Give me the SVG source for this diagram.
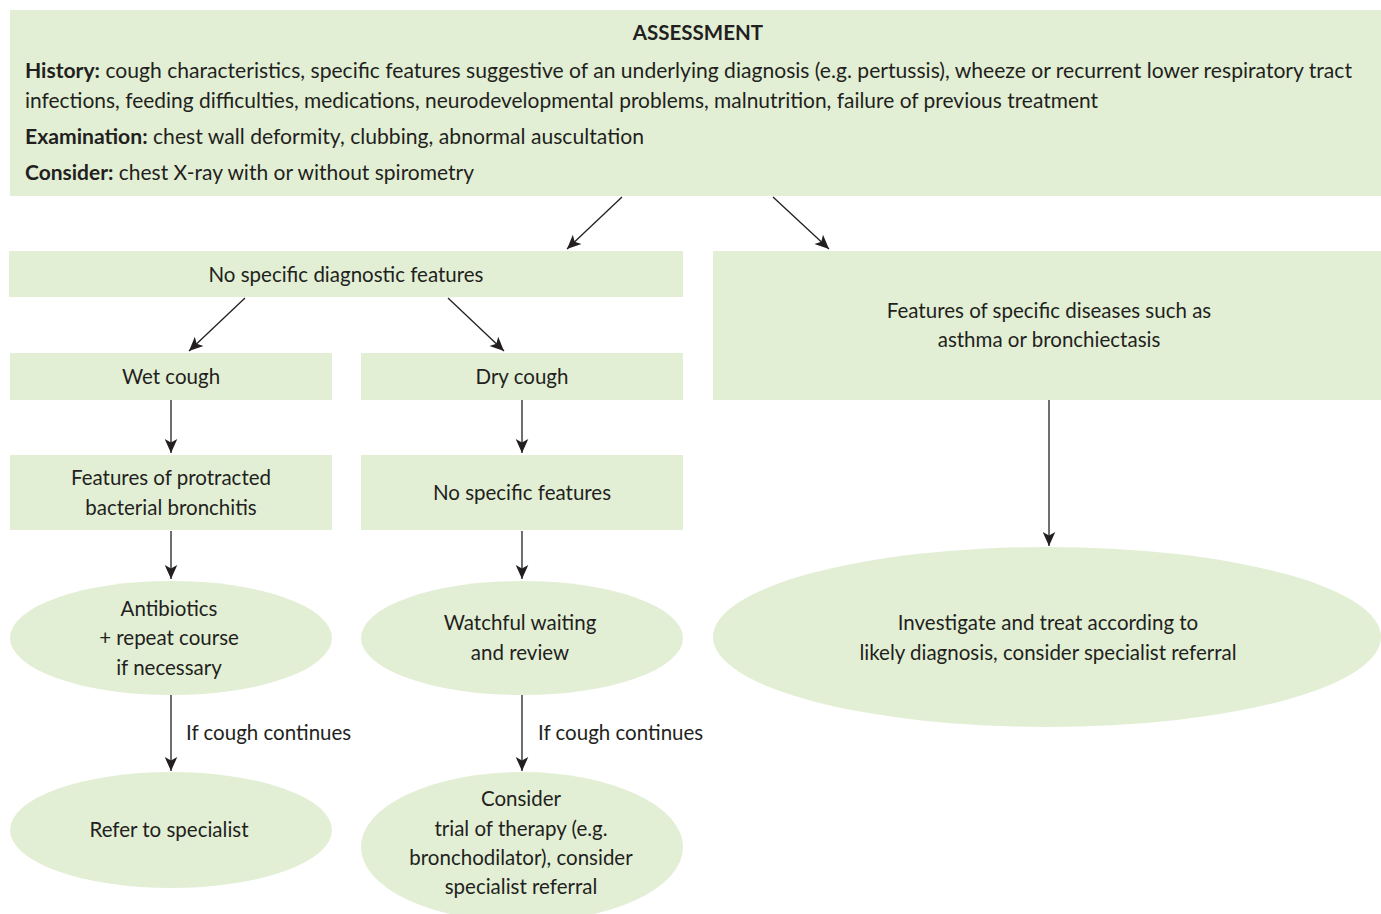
<svg xmlns="http://www.w3.org/2000/svg" width="1381" height="914" viewBox="0 0 1381 914">
<defs>
<style>
.n{fill:#e2efd5;stroke:none}
text{font-family:Lato,"Liberation Sans",sans-serif;font-size:20.5px;fill:#231f20}
.c{text-anchor:middle}
.b{font-weight:bold}
.e{stroke:#231f20;stroke-width:1.3;fill:none;marker-end:url(#ah)}
</style>
<marker id="ah" viewBox="0 0 10 10" refX="10" refY="5" markerWidth="14" markerHeight="14" markerUnits="userSpaceOnUse" orient="auto">
<path d="M0,0.5 L10,5 L0,9.5 L2.5,5 z" fill="#231f20"/>
</marker>
</defs>
<rect width="1381" height="914" fill="#fff"/>
<g id="assessment">
<rect class="n" x="10" y="10" width="1371" height="186"/>
<text class="c b" x="698" y="40">ASSESSMENT</text>
<text x="25" y="78" textLength="1327" lengthAdjust="spacingAndGlyphs"><tspan class="b">History:</tspan> cough characteristics, specific features suggestive of an underlying diagnosis (e.g. pertussis), wheeze or recurrent lower respiratory tract</text>
<text x="25" y="108" textLength="1073" lengthAdjust="spacingAndGlyphs">infections, feeding difficulties, medications, neurodevelopmental problems, malnutrition, failure of previous treatment</text>
<text x="25" y="144" textLength="619" lengthAdjust="spacingAndGlyphs"><tspan class="b">Examination:</tspan> chest wall deformity, clubbing, abnormal auscultation</text>
<text x="25" y="180" textLength="449" lengthAdjust="spacingAndGlyphs"><tspan class="b">Consider:</tspan> chest X-ray with or without spirometry</text>
</g>
<g id="nospecific">
<rect class="n" x="9" y="251" width="674" height="46"/>
<text class="c" x="346" y="282">No specific diagnostic features</text>
</g>
<g id="specific">
<rect class="n" x="713" y="251" width="668" height="149"/>
<text class="c" x="1049" y="318">Features of specific diseases such as</text>
<text class="c" x="1049" y="347">asthma or bronchiectasis</text>
</g>
<g id="wet">
<rect class="n" x="10" y="353" width="322" height="47"/>
<text class="c" x="171" y="384">Wet cough</text>
</g>
<g id="dry">
<rect class="n" x="361" y="353" width="322" height="47"/>
<text class="c" x="522" y="384">Dry cough</text>
</g>
<g id="pbb">
<rect class="n" x="10" y="455" width="322" height="75"/>
<text class="c" x="171" y="485">Features of protracted</text>
<text class="c" x="171" y="515">bacterial bronchitis</text>
</g>
<g id="nsf">
<rect class="n" x="361" y="455" width="322" height="75"/>
<text class="c" x="522" y="500">No specific features</text>
</g>
<g id="antibiotics">
<ellipse class="n" cx="171" cy="638" rx="161" ry="57"/>
<text class="c" x="169" y="616">Antibiotics</text>
<text class="c" x="169" y="645">+ repeat course</text>
<text class="c" x="169" y="675">if necessary</text>
</g>
<g id="watchful">
<ellipse class="n" cx="522" cy="638" rx="161" ry="57"/>
<text class="c" x="520" y="630">Watchful waiting</text>
<text class="c" x="520" y="660">and review</text>
</g>
<g id="refer">
<ellipse class="n" cx="171" cy="830" rx="161" ry="58"/>
<text class="c" x="169" y="837">Refer to specialist</text>
</g>
<g id="trial">
<ellipse class="n" cx="522" cy="847" rx="161" ry="75"/>
<text class="c" x="521" y="806">Consider</text>
<text class="c" x="521" y="836">trial of therapy (e.g.</text>
<text class="c" x="521" y="865">bronchodilator), consider</text>
<text class="c" x="521" y="894">specialist referral</text>
</g>
<g id="investigate">
<ellipse class="n" cx="1047" cy="637" rx="334" ry="90"/>
<text class="c" x="1048" y="630">Investigate and treat according to</text>
<text class="c" x="1048" y="660">likely diagnosis, consider specialist referral</text>
</g>
<g id="connectors">
<line class="e" x1="622" y1="197" x2="567" y2="249"/>
<line class="e" x1="773" y1="197" x2="829" y2="249"/>
<line class="e" x1="245" y1="298" x2="189" y2="351"/>
<line class="e" x1="448" y1="298" x2="504" y2="351"/>
<line class="e" x1="171" y1="400" x2="171" y2="453"/>
<line class="e" x1="522" y1="400" x2="522" y2="453"/>
<line class="e" x1="171" y1="531" x2="171" y2="579"/>
<line class="e" x1="522" y1="531" x2="522" y2="579"/>
<line class="e" x1="171" y1="695" x2="171" y2="771"/>
<line class="e" x1="522" y1="695" x2="522" y2="771"/>
<line class="e" x1="1049" y1="400" x2="1049" y2="546"/>
<text x="186" y="740">If cough continues</text>
<text x="538" y="740">If cough continues</text>
</g>
</svg>
